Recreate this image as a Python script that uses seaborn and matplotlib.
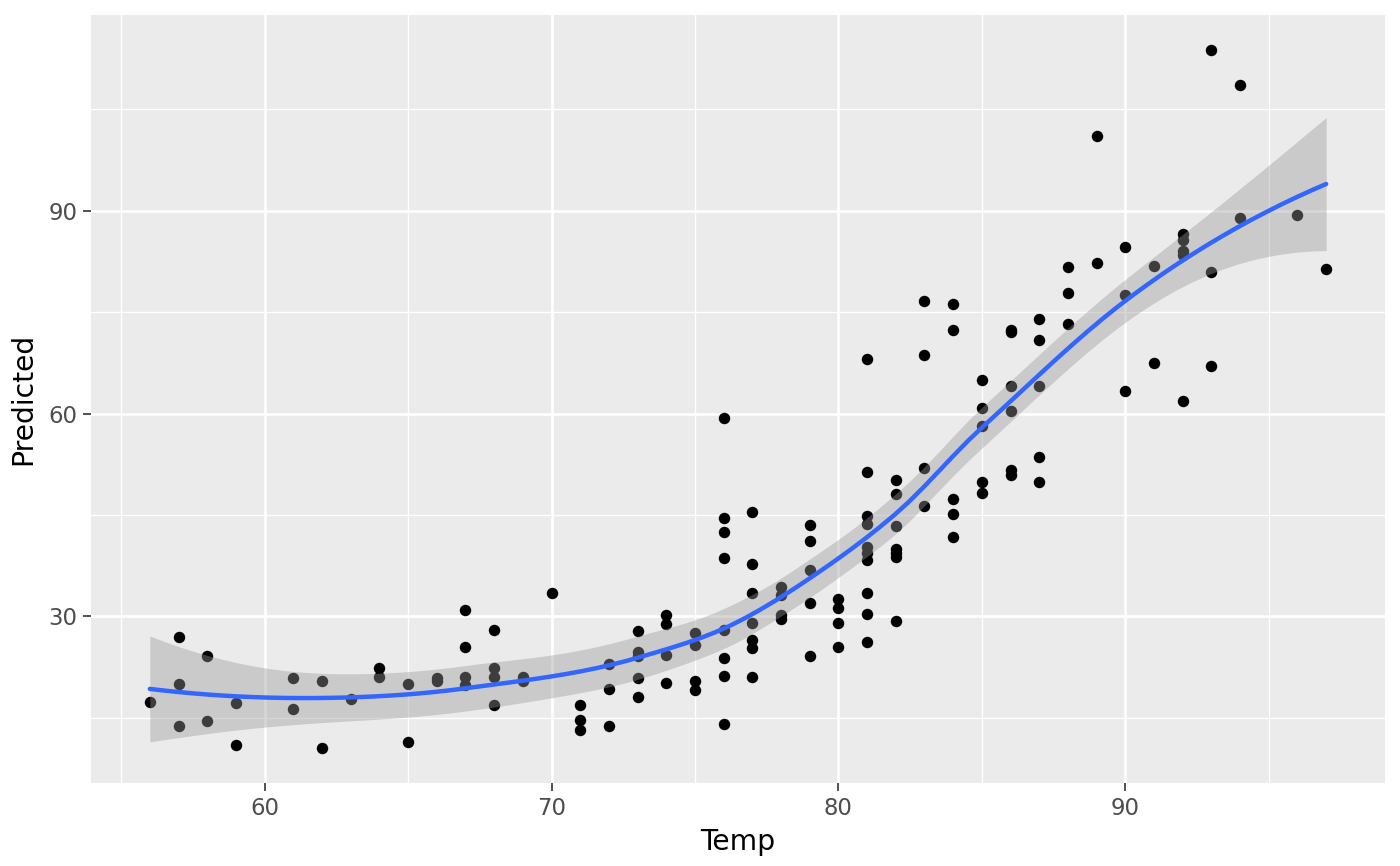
import numpy as np
import pandas as pd
import matplotlib
matplotlib.use("Agg")
import matplotlib.pyplot as plt
import seaborn as sns
from matplotlib.ticker import FixedLocator

# ---- data ----
temp = [56,
        57, 57, 57,
        58, 58,
        59, 59,
        61, 61,
        62, 62,
        63,
        64, 64,
        65, 65,
        66, 66,
        67, 67, 67, 67,
        68, 68, 68, 68,
        69, 69,
        70,
        71, 71, 71,
        72, 72, 72,
        73, 73, 73, 73, 73,
        74, 74, 74, 74,
        75, 75, 75, 75,
        76, 76, 76, 76, 76, 76, 76, 76,
        77, 77, 77, 77, 77, 77, 77,
        78, 78, 78, 78,
        79, 79, 79, 79, 79,
        80, 80, 80, 80,
        81, 81, 81, 81, 81, 81, 81, 81, 81, 81,
        82, 82, 82, 82, 82, 82, 82,
        83, 83, 83, 83,
        84, 84, 84, 84, 84,
        85, 85, 85, 85, 85,
        86, 86, 86, 86, 86, 86,
        87, 87, 87, 87, 87,
        88, 88, 88,
        89, 89,
        90, 90, 90,
        91, 91,
        92, 92, 92, 92, 92,
        93, 93, 93,
        94, 94,
        96,
        97]
predicted = [17.3,
             27.0, 20.0, 13.7,
             24.1, 14.5,
             17.1, 10.9,
             20.8, 16.3,
             20.4, 10.5,
             17.7,
             22.3, 21.0,
             20.0, 11.4,
             20.8, 20.4,
             31.0, 25.4, 21.0, 19.9,
             27.9, 22.3, 21.0, 16.9,
             21.0, 20.5,
             33.5,
             16.9, 14.6, 13.2,
             22.9, 19.2, 13.7,
             27.8, 24.7, 24.1, 20.8, 18.0,
             30.2, 28.8, 24.2, 20.1,
             27.5, 25.7, 20.4, 19.1,
             59.4, 44.5, 42.4, 38.6, 27.9, 23.9, 21.1, 14.0,
             45.5, 37.8, 33.4, 29.0, 26.5, 25.3, 21.0,
             34.3, 33.1, 30.2, 29.6,
             43.5, 41.2, 36.8, 31.9, 24.1,
             32.5, 31.2, 29.0, 25.4,
             68.0, 51.3, 44.8, 43.6, 40.3, 39.3, 38.3, 33.4, 30.4, 26.2,
             50.2, 48.1, 43.3, 40.0, 39.3, 38.7, 29.3,
             76.7, 68.6, 52.0, 46.3,
             76.2, 72.4, 47.4, 45.2, 41.7,
             65.0, 60.8, 58.1, 49.8, 48.3,
             72.4, 72.0, 64.1, 60.4, 51.6, 50.9,
             74.0, 70.9, 64.1, 53.5, 49.9,
             81.7, 77.9, 73.3,
             101.1, 82.3,
             84.7, 77.6, 63.3,
             81.9, 67.5,
             86.6, 85.7, 84.1, 83.5, 61.9,
             113.8, 81.0, 67.1,
             108.6, 89.0,
             89.3,
             81.4]
x_ticks = [60, 70, 80, 90]
y_ticks = [30, 60, 90]
x_minor = [55, 65, 75, 85, 95]
y_minor = [15, 45, 75, 105]

df = pd.DataFrame({"Temp": temp, "Predicted": predicted})

# ---- loess smoother (span 0.75, degree 2, kd-tree interpolation) with 95% CI ----
SPAN = 0.75


def local_rows(x, x0):
    n = len(x)
    q = int(np.floor(n * SPAN))
    d = np.abs(x - x0)
    h = np.sort(d)[q - 1]
    u = np.clip(d / h, 0, 1)
    w = (1 - u ** 3) ** 3
    X = np.column_stack([np.ones(n), x - x0, (x - x0) ** 2])
    XtW = X.T * w
    A = np.linalg.solve(XtW @ X, XtW)
    return A[0], A[1]  # value row, slope row


def build_vertices(x):
    n = len(x)
    fc = int(np.floor(n * SPAN * 0.2))
    t = 0.005 * (x.max() - x.min())
    verts = {x.min() - t, x.max() + t}

    def rec(lo, hi, pts):
        if len(pts) <= fc:
            return
        m = float(np.median(pts))
        if m <= lo or m >= hi:
            return
        verts.add(m)
        rec(lo, m, pts[pts <= m])
        rec(m, hi, pts[pts > m])

    rec(min(verts), max(verts), np.sort(x))
    return np.array(sorted(verts))


xv = np.asarray(temp, dtype=float)
yv = np.asarray(predicted, dtype=float)
n = len(xv)
verts = build_vertices(xv)
V, S = zip(*[local_rows(xv, v) for v in verts])
V, S = np.array(V), np.array(S)


def interp_rows(x_eval):
    out = []
    for xe in x_eval:
        i = int(np.clip(np.searchsorted(verts, xe) - 1, 0, len(verts) - 2))
        a, b = verts[i], verts[i + 1]
        hh = b - a
        tt = (xe - a) / hh
        h00 = 2 * tt ** 3 - 3 * tt ** 2 + 1
        h10 = tt ** 3 - 2 * tt ** 2 + tt
        h01 = -2 * tt ** 3 + 3 * tt ** 2
        h11 = tt ** 3 - tt ** 2
        out.append(h00 * V[i] + h10 * hh * S[i] + h01 * V[i + 1] + h11 * hh * S[i + 1])
    return np.array(out)


L = interp_rows(xv)
res = yv - L @ yv
M = np.eye(n) - L
MtM = M.T @ M
d1 = np.trace(MtM)
d2 = np.trace(MtM @ MtM)
s = np.sqrt(np.sum(res ** 2) / d1)
dfree = d1 ** 2 / d2
z = 1.959964
tq = z + (z ** 3 + z) / (4 * dfree) + (5 * z ** 5 + 16 * z ** 3 + 3 * z) / (96 * dfree ** 2)

xs = np.linspace(xv.min(), xv.max(), 80)
Ls = interp_rows(xs)
fit = Ls @ yv
se = s * np.sqrt(np.sum(Ls ** 2, axis=1))
smooth = pd.DataFrame({"Temp": xs, "fit": fit, "lo": fit - tq * se, "hi": fit + tq * se})

# ---- figure ----
sns.set_theme(style="white")
plt.rcParams["font.family"] = ["DejaVu Sans"]
fig = plt.figure(figsize=(7, 4.33), dpi=200)
ax = fig.add_axes([91 / 1400, 1 - 783 / 866, (1385 - 91) / 1400, (783 - 15) / 866])
ax.set_facecolor("#EBEBEB")

sns.scatterplot(data=df, x="Temp", y="Predicted", ax=ax, color="black",
                s=17, linewidth=0, zorder=2, legend=False)
ax.fill_between(smooth["Temp"], smooth["lo"], smooth["hi"], color="#999999",
                alpha=0.4, linewidth=0, zorder=3)
sns.lineplot(data=smooth, x="Temp", y="fit", ax=ax, color="#3366FF",
             linewidth=1.6, zorder=4)

xr = xv.max() - xv.min()
ax.set_xlim(xv.min() - 0.05 * xr, xv.max() + 0.05 * xr)
ymin, ymax = yv.min(), yv.max()
yr = ymax - ymin
ax.set_ylim(ymin - 0.05 * yr, ymax + 0.05 * yr)

ax.xaxis.set_major_locator(FixedLocator(x_ticks))
ax.yaxis.set_major_locator(FixedLocator(y_ticks))
ax.xaxis.set_minor_locator(FixedLocator(x_minor))
ax.yaxis.set_minor_locator(FixedLocator(y_minor))
ax.grid(which="major", color="white", linewidth=1.0)
ax.grid(which="minor", color="white", linewidth=0.5)
ax.set_axisbelow(True)
for sp in ax.spines.values():
    sp.set_visible(False)

ax.tick_params(which="major", length=2.75, width=0.6, color="#333333",
               labelsize=8.2, labelcolor="#4D4D4D", pad=2.2,
               bottom=True, left=True)
ax.tick_params(which="minor", length=0)
ax.set_xlabel("Temp", fontsize=10.2, color="black", labelpad=3)
ax.set_ylabel("Predicted", fontsize=10.2, color="black", labelpad=4)

fig.savefig("out.png", dpi=200, facecolor="white")
